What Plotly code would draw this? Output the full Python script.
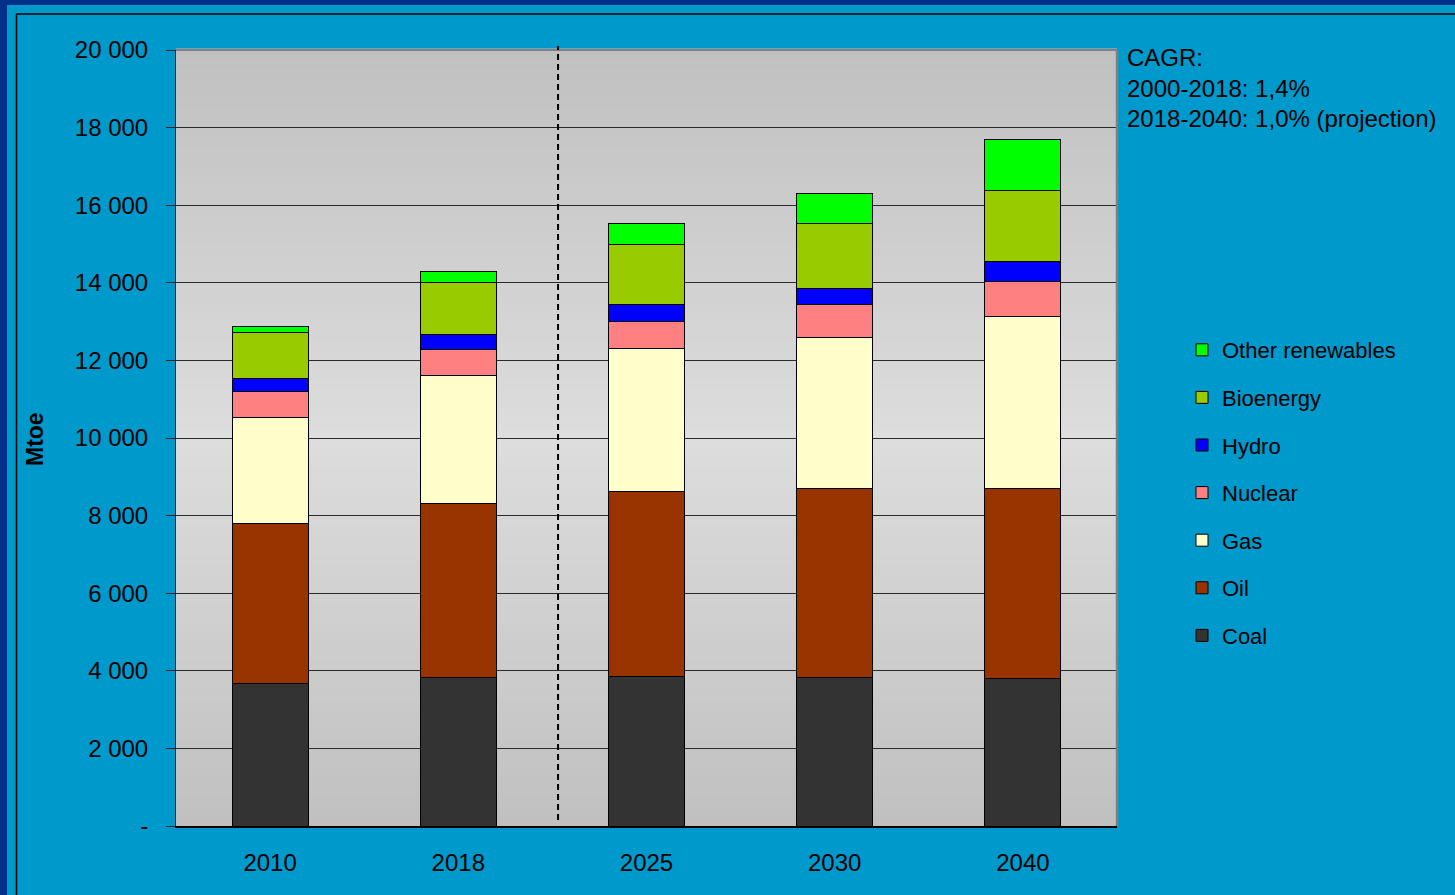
import plotly.graph_objects as go

# ---------------- data ----------------
years = ["2010", "2018", "2025", "2030", "2040"]
coal = [3660, 3840, 3866, 3840, 3789]
oil = [4124, 4460, 4768, 4871, 4922]
gas = [2757, 3300, 3660, 3892, 4408]
nuclear = [670, 678, 721, 825, 920]
hydro = [310, 378, 413, 438, 515]
bioenergy = [1211, 1348, 1572, 1675, 1830]
other_renewables = [129, 300, 541, 773, 1314]

series_names = ["Coal", "Oil", "Gas", "Nuclear", "Hydro", "Bioenergy", "Other renewables"]
series_values = [coal, oil, gas, nuclear, hydro, bioenergy, other_renewables]
series_colors = ["#333333", "#993300", "#FFFFCC", "#FF8080", "#0000FF", "#99CC00", "#00FF00"]

y_tickvals = list(range(0, 20001, 2000))
y_ticktext = ["-" if v == 0 else f"{v:,}".replace(",", " ") for v in y_tickvals]
cagr_lines = ["CAGR:", "2000-2018: 1,4%", "2018-2040: 1,0% (projection)"]
projection_split = 1.53  # divider between 2018 and 2025 categories

# ---------------- layout geometry (pixels) ----------------
W, H = 1455, 895
L, R, T, B = 176, 1117, 50, 826
PW, PH = R - L, B - T


def px(x):
    return (x - L) / PW


def py(y):
    return (B - y) / PH


FONT = "Liberation Sans, Arial, sans-serif"

fig = go.Figure()
for i, (name, vals, col) in enumerate(zip(series_names, series_values, series_colors)):
    fig.add_trace(go.Bar(
        x=years, y=vals, name=name, legendgroup=name, legendrank=1000 - i,
        marker=dict(color=col, line=dict(color="#000000", width=1)),
    ))

shapes = []
# outer dark-blue frame (left and top strips)
shapes.append(dict(type="rect", xref="paper", yref="paper", x0=px(0), x1=px(7), y0=py(H), y1=py(0),
                   fillcolor="#00318A", line=dict(width=0), layer="below"))
shapes.append(dict(type="rect", xref="paper", yref="paper", x0=px(0), x1=px(W), y0=py(5), y1=py(0),
                   fillcolor="#00318A", line=dict(width=0), layer="below"))
# black chart-area frame
shapes.append(dict(type="line", xref="paper", yref="paper", x0=px(16.5), x1=px(16.5), y0=py(H), y1=py(14),
                   line=dict(color="#000000", width=1.5), layer="below"))
shapes.append(dict(type="line", xref="paper", yref="paper", x0=px(16.5), x1=px(W), y0=py(14), y1=py(14),
                   line=dict(color="#000000", width=1.5), layer="below"))

# gradient plot background (grey at edges, lighter in middle)
N = 80
for i in range(N):
    f0, f1 = i / N, (i + 1) / N
    mid = (f0 + f1) / 2
    t = 1 - abs(mid - 0.5) * 2  # 0 at edges, 1 at centre
    g = int(round(192 + (221 - 192) * t))
    shapes.append(dict(type="rect", xref="x domain", yref="y domain", x0=0, x1=1, y0=f0, y1=f1 + 0.002,
                       fillcolor=f"rgb({g},{g},{g})", line=dict(width=0), layer="below"))

# top / right plot border in grey
shapes.append(dict(type="line", xref="x domain", yref="y domain", x0=0, x1=1, y0=1, y1=1,
                   line=dict(color="#808080", width=2), layer="above"))
shapes.append(dict(type="line", xref="x domain", yref="y domain", x0=1, x1=1, y0=0, y1=1,
                   line=dict(color="#808080", width=2.5), layer="above"))

# dashed projection divider
shapes.append(dict(type="line", xref="x", yref="paper", x0=projection_split, x1=projection_split,
                   y0=py(820), y1=py(46), line=dict(color="#000000", width=2, dash="6px,4px"), layer="above"))

annotations = [
    dict(text="<b>Mtoe</b>", xref="paper", yref="paper", x=px(35), y=py(439), textangle=-90,
         showarrow=False, xanchor="center", yanchor="middle", font=dict(size=23, color="#000000", family=FONT)),
]
for txt, yy in zip(cagr_lines, [58, 88, 118]):
    annotations.append(dict(text=txt, xref="paper", yref="paper", x=px(1125), y=py(yy), showarrow=False,
                            xanchor="left", yanchor="middle", align="left",
                            font=dict(size=24, color="#000000", family=FONT)))

fig.update_layout(
    width=W, height=H,
    margin=dict(l=L, r=W - R, t=T, b=H - B, autoexpand=False),
    paper_bgcolor="#0099CC",
    plot_bgcolor="rgba(0,0,0,0)",
    barmode="stack",
    bargap=0.596,
    font=dict(family=FONT, size=22, color="#000000"),
    showlegend=True,
    legend=dict(
        x=px(1182), y=py(329), xanchor="left", yanchor="top",
        bgcolor="rgba(0,0,0,0)", borderwidth=0,
        traceorder="grouped", tracegroupgap=16,
        font=dict(size=22, color="#000000", family=FONT),
    ),
    shapes=shapes,
    annotations=annotations,
    xaxis=dict(
        showgrid=False, showline=True, linecolor="#000000", linewidth=2,
        ticks="outside", ticklen=14, tickcolor="rgba(0,0,0,0)",
        tickfont=dict(size=24, color="#000000", family=FONT),
        range=[-0.5, 4.5], fixedrange=True,
    ),
    yaxis=dict(
        range=[0, 20000], tickvals=y_tickvals, ticktext=y_ticktext,
        showgrid=True, gridcolor="#2a2a2a", gridwidth=1,
        showline=True, linecolor="#222222", linewidth=1,
        ticks="outside", ticklen=9, tickcolor="#222222",
        ticklabelstandoff=13,
        tickfont=dict(size=24, color="#000000", family=FONT),
        zeroline=False, fixedrange=True,
    ),
)

fig.write_html("out.html")
